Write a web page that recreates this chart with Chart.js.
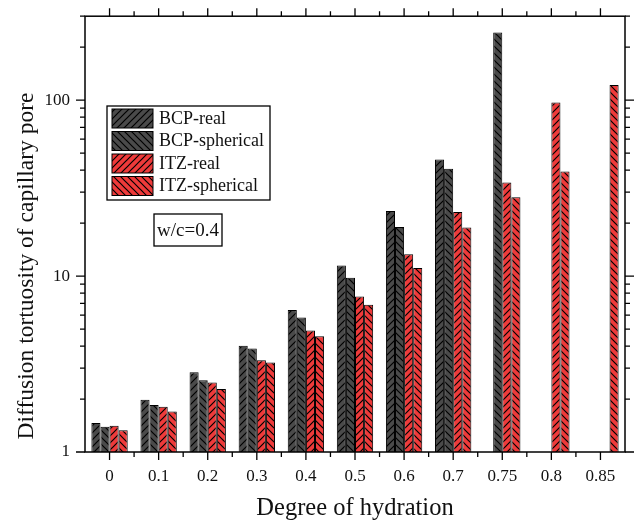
<!DOCTYPE html>
<html>
<head>
<meta charset="utf-8">
<script src="https://cdn.jsdelivr.net/npm/chart.js@4.4.0/dist/chart.umd.min.js"></script>
<style>
  html, body { margin: 0; padding: 0; background: #fff; }
  #wrap { width: 635px; height: 523px; }
</style>
</head>
<body>
<div id="wrap"><canvas id="chart" width="635" height="523"></canvas></div>
<script>
// Data
const categories = ['0', '0.1', '0.2', '0.3', '0.4', '0.5', '0.6', '0.7', '0.75', '0.8', '0.85'];
const bcpReal = [1.46, 1.98, 2.84, 4.02, 6.42, 11.5, 23.4, 46, null, null, null];
const bcpSpherical = [1.39, 1.85, 2.56, 3.87, 5.82, 9.78, 19, 40.7, 242, null, null];
const itzReal = [1.41, 1.81, 2.48, 3.32, 4.9, 7.65, 13.3, 23.1, 34, 97, null];
const itzSpherical = [1.33, 1.7, 2.28, 3.23, 4.55, 6.87, 11.1, 18.9, 28.1, 39.3, 122];
const yMajorTicks = [1, 10, 100];
const yMin = 1, yMax = 300;
const yTitle = 'Diffusion tortuosity of capillary pore';

const FONT = "'Liberation Serif', 'Times New Roman', serif";
const GRAY = '#4a4a4a';
const RED = '#ee3a3a';

// hatch pattern: dir 1 = "///", dir -1 = "\\\"
function makeHatch(bg, dir) {
    const s = 7;
    const c = document.createElement('canvas');
    c.width = s; c.height = s;
    const g = c.getContext('2d');
    g.fillStyle = bg;
    g.fillRect(0, 0, s, s);
    g.strokeStyle = '#000';
    g.lineWidth = 1.2;
    g.beginPath();
    if (dir > 0) {
        g.moveTo(0, s); g.lineTo(s, 0);
        g.moveTo(-1, 1); g.lineTo(1, -1);
        g.moveTo(s - 1, s + 1); g.lineTo(s + 1, s - 1);
    } else {
        g.moveTo(0, 0); g.lineTo(s, s);
        g.moveTo(-1, s - 1); g.lineTo(1, s + 1);
        g.moveTo(s - 1, -1); g.lineTo(s + 1, 1);
    }
    g.stroke();
    return g.createPattern(c, 'repeat');
}

const series = [
    { label: 'BCP-real', data: bcpReal, fill: makeHatch(GRAY, 1) },
    { label: 'BCP-spherical', data: bcpSpherical, fill: makeHatch(GRAY, -1) },
    { label: 'ITZ-real', data: itzReal, fill: makeHatch(RED, 1) },
    { label: 'ITZ-spherical', data: itzSpherical, fill: makeHatch(RED, -1) }
];

// frame, ticks on all four sides, y title, legend and note box
const decor = {
    id: 'decor',
    afterDraw(chart) {
        const ctx = chart.ctx;
        const a = chart.chartArea;
        const xs = chart.scales.x, ys = chart.scales.y;
        ctx.save();
        ctx.strokeStyle = '#000';
        ctx.lineWidth = 1.5;
        ctx.strokeRect(a.left, a.top, a.right - a.left, a.bottom - a.top);

        ctx.lineWidth = 1.3;
        ctx.beginPath();
        // y ticks
        for (let d = 1; d <= yMax; d *= 10) {
            for (let m = 1; m <= 9; m++) {
                const v = d * m;
                if (v > yMax) break;
                const py = ys.getPixelForValue(v);
                const len = m === 1 ? 9 : 5;
                ctx.moveTo(a.left, py); ctx.lineTo(a.left - len, py);
                ctx.moveTo(a.right, py); ctx.lineTo(a.right + len, py);
            }
        }
        // x ticks
        for (let i = 0; i < categories.length; i++) {
            const px = xs.getPixelForValue(i);
            ctx.moveTo(px, a.bottom); ctx.lineTo(px, a.bottom + 8);
            ctx.moveTo(px, a.top); ctx.lineTo(px, a.top - 8);
            if (i < categories.length - 1) {
                const bx = (px + xs.getPixelForValue(i + 1)) / 2;
                ctx.moveTo(bx, a.bottom); ctx.lineTo(bx, a.bottom + 5);
                ctx.moveTo(bx, a.top); ctx.lineTo(bx, a.top - 5);
            }
        }
        ctx.stroke();

        // y title (sits lower than the plot centre in the original)
        ctx.save();
        ctx.translate(27, 266);
        ctx.rotate(-Math.PI / 2);
        ctx.font = '23.5px ' + FONT;
        ctx.fillStyle = '#111';
        ctx.textAlign = 'center';
        ctx.textBaseline = 'middle';
        ctx.fillText(yTitle, 0, 0);
        ctx.restore();

        // legend
        const lx = 107, ly = 106, lw = 163, lh = 94;
        ctx.fillStyle = '#fff';
        ctx.fillRect(lx, ly, lw, lh);
        ctx.lineWidth = 1.3;
        ctx.strokeRect(lx, ly, lw, lh);
        ctx.font = '18px ' + FONT;
        ctx.textBaseline = 'middle';
        series.forEach((s, k) => {
            const ry = ly + 3 + k * 22.5;
            ctx.fillStyle = s.fill;
            ctx.fillRect(lx + 5, ry, 41, 19);
            ctx.lineWidth = 1;
            ctx.strokeRect(lx + 5, ry, 41, 19);
            ctx.fillStyle = '#111';
            ctx.fillText(s.label, lx + 52, ry + 10);
        });

        // w/c note
        ctx.lineWidth = 1.3;
        ctx.strokeRect(154, 214, 68, 32);
        ctx.fillStyle = '#111';
        ctx.textAlign = 'center';
        ctx.font = '19px ' + FONT;
        ctx.fillText('w/c=0.4', 188, 231);
        ctx.restore();
    }
};

new Chart(document.getElementById('chart'), {
    type: 'bar',
    data: {
        labels: categories,
        datasets: series.map(s => ({
            label: s.label,
            data: s.data,
            backgroundColor: s.fill,
            borderColor: '#000',
            borderWidth: 1,
            categoryPercentage: 0.74,
            barPercentage: 1
        }))
    },
    options: {
        responsive: false,
        animation: false,
        layout: { padding: { left: 0, right: 10, top: 15, bottom: 0 } },
        plugins: { legend: { display: false }, tooltip: { enabled: false } },
        scales: {
            x: {
                grid: { display: true, drawOnChartArea: false, tickLength: 9, tickColor: 'transparent' },
                border: { display: false },
                ticks: { color: '#111', font: { family: FONT, size: 17 }, padding: 5, maxRotation: 0 },
                title: { display: true, text: 'Degree of hydration', color: '#111',
                         font: { family: FONT, size: 24.5 }, padding: { top: 0, bottom: 0 } },
                afterFit: (scale) => { scale.height = 71; }
            },
            y: {
                type: 'logarithmic',
                min: yMin,
                max: yMax,
                grid: { display: true, drawOnChartArea: false, tickLength: 9, tickColor: 'transparent' },
                border: { display: false },
                ticks: {
                    color: '#111',
                    font: { family: FONT, size: 17 },
                    padding: 6,
                    autoSkip: false,
                    callback: (v) => yMajorTicks.includes(v) ? String(v) : ''
                },
                afterFit: (scale) => { scale.width = 85; }
            }
        }
    },
    plugins: [decor]
});
</script>
</body>
</html>
